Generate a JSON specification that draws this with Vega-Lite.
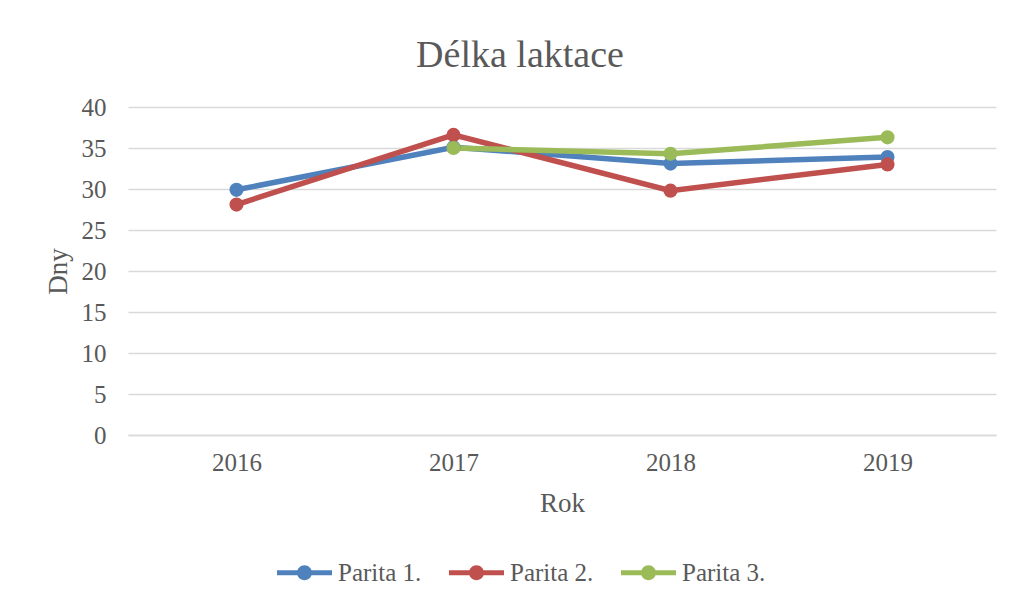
{
  "$schema": "https://vega.github.io/schema/vega-lite/v6.json",
  "width": 868,
  "height": 328,
  "autosize": {"type": "none"},
  "padding": {"left": 128, "top": 107, "right": 17, "bottom": 168},
  "background": "white",
  "title": {
    "text": "Délka laktace",
    "font": "Liberation Serif",
    "fontSize": 38,
    "fontWeight": "normal",
    "color": "#595959",
    "offset": 20,
    "dx": -42
  },
  "data": {
    "values": [
      {"rok": "2016", "serie": "Parita 1.", "dny": 29.9},
      {"rok": "2017", "serie": "Parita 1.", "dny": 35.1},
      {"rok": "2018", "serie": "Parita 1.", "dny": 33.1},
      {"rok": "2019", "serie": "Parita 1.", "dny": 33.9},
      {"rok": "2016", "serie": "Parita 2.", "dny": 28.1},
      {"rok": "2017", "serie": "Parita 2.", "dny": 36.6},
      {"rok": "2018", "serie": "Parita 2.", "dny": 29.8},
      {"rok": "2019", "serie": "Parita 2.", "dny": 33.0},
      {"rok": "2017", "serie": "Parita 3.", "dny": 35.0},
      {"rok": "2018", "serie": "Parita 3.", "dny": 34.3},
      {"rok": "2019", "serie": "Parita 3.", "dny": 36.3}
    ]
  },
  "encoding": {
    "x": {
      "field": "rok",
      "type": "ordinal",
      "scale": {"type": "point", "padding": 0.5},
      "axis": {
        "title": "Rok",
        "labelAngle": 0,
        "ticks": false,
        "labelPadding": 15,
        "titlePadding": 15,
        "domainColor": "#d9d9d9",
        "domainWidth": 1.5
      }
    },
    "y": {
      "field": "dny",
      "type": "quantitative",
      "scale": {"domain": [0, 40], "nice": false},
      "axis": {
        "title": "Dny",
        "values": [0, 5, 10, 15, 20, 25, 30, 35, 40],
        "domain": false,
        "ticks": false,
        "labelPadding": 22,
        "titlePadding": 9,
        "gridColor": "#d9d9d9",
        "gridWidth": 1.5
      }
    },
    "color": {
      "field": "serie",
      "type": "nominal",
      "scale": {"domain": ["Parita 1.", "Parita 2.", "Parita 3."], "range": ["#4f81bd", "#c0504d", "#9bbb59"]},
      "legend": {
        "title": null,
        "orient": "none",
        "direction": "horizontal",
        "legendX": 149,
        "legendY": 438,
        "symbolType": "M -1 -0.09 L 1 -0.09 L 1 0.09 L -1 0.09 Z M 0.27 0 A 0.27 0.27 0 1 1 -0.27 0 A 0.27 0.27 0 1 1 0.27 0 Z",
        "symbolSize": 3025,
        "symbolStrokeWidth": 0,
        "labelFont": "Liberation Serif",
        "labelFontSize": 25,
        "labelColor": "#595959",
        "columnPadding": 27,
        "labelOffset": 6
      }
    }
  },
  "layer": [
    {"mark": {"type": "line", "strokeWidth": 5.5, "strokeCap": "round"}},
    {"mark": {"type": "point", "filled": true, "opacity": 1, "size": 200}}
  ],
  "config": {
    "view": {"stroke": null},
    "axis": {
      "labelFont": "Liberation Serif",
      "labelFontSize": 25,
      "labelColor": "#595959",
      "titleFont": "Liberation Serif",
      "titleFontSize": 27,
      "titleFontWeight": "normal",
      "titleColor": "#595959"
    }
  }
}
